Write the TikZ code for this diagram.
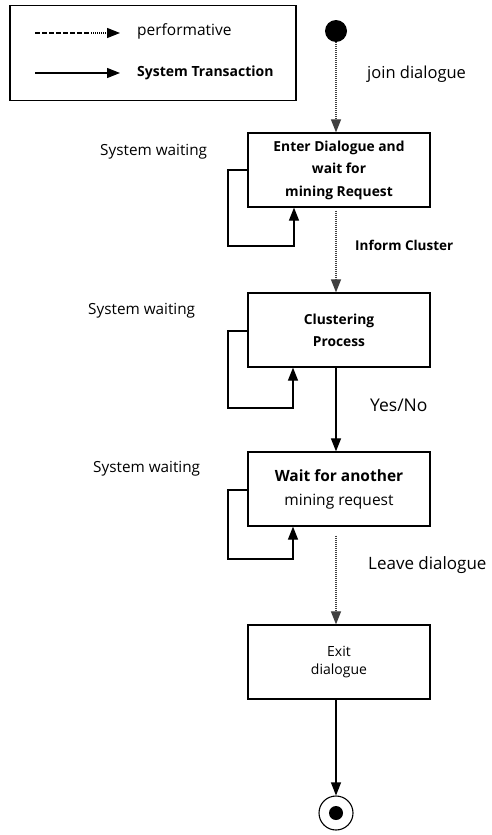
\documentclass[tikz,border=0pt]{standalone}
\usepackage{fontspec}
\setmainfont{Open Sans}
\usetikzlibrary{arrows.meta}
\newcommand{\fsz}[2]{\fontsize{#1}{#2}\selectfont}
\begin{document}
\begin{tikzpicture}[x=1pt,y=-1pt,
  state/.style={draw,line width=1.2pt,minimum width=182pt,minimum height=74pt,inner sep=0pt,align=center},
  lbl/.style={inner sep=0pt,anchor=west},
  tip/.style={-{Triangle[length=13pt,width=10pt]}},
  trans/.style={tip,line width=1.1pt},
  perf/.style={tip,line width=1.1pt,dash pattern=on 1pt off 1pt,draw=black!75},
  loopline/.style={tip,line width=1.1pt}]
\useasboundingbox (0,0) rectangle (491,835);

% legend
\node[draw,line width=1.2pt,minimum width=286pt,minimum height=95pt,inner sep=0pt] (legend) at (153,53) {};
\coordinate (ld0) at (35,33); \coordinate (ld1) at (120,33);
\coordinate (ls0) at (35,73); \coordinate (ls1) at (120,73);
\draw[line width=1.2pt,dash pattern=on 4.5pt off 2.5pt] (ld0) -- ++(56,0) coordinate (ldm);
\draw[tip,line width=1.1pt,dash pattern=on 1pt off 1pt] (ldm) -- (ld1);
\draw[trans] (ls0) -- (ls1);
\node[lbl,font=\fsz{15.5}{18}] (lperf) at (137,31) {performative};
\node[lbl,font=\bfseries\fsz{14}{16}] (ltrans) at (137,73) {System Transaction};

% initial and final states
\node[circle,fill=black,minimum size=22pt,inner sep=0pt] (start) at (336,31) {};
\node[circle,draw,line width=1.1pt,minimum size=34pt,inner sep=0pt] (stop) at (336,813) {};
\node[circle,fill=black,minimum size=14pt,inner sep=0pt] (stopdot) at (336,813) {};

% states
\node[state,font=\bfseries\fsz{13.8}{22.5}] (enter) at (339,170) {Enter Dialogue and\\wait for\\mining Request};
\node[state,font=\bfseries\fsz{13.8}{22}] (clus) at (339,330) {Clustering\\Process};
\node[state,font=\fsz{15.5}{24}] (wait) at (339,489) {\textbf{Wait for another}\\mining request};
\node[state,font=\fsz{14}{18}] (exit) at (339,662) {Exit\\dialogue};

% transitions
\draw[perf] (start) -- (enter.north -| start);
\draw[perf] ([xshift=-3pt]enter.south) ++(0,3) -- ([xshift=-3pt]clus.north);
\draw[trans] ([xshift=-3pt]clus.south) -- ([xshift=-3pt]wait.north);
\draw[perf] ([xshift=-3pt]wait.south) ++(0,9) -- ([xshift=-3pt]exit.north);
\draw[trans] ([xshift=-3pt]exit.south) -- (stop.north);

\node[lbl,font=\fsz{16.5}{18}] (l1) at (367,74) {join dialogue};
\node[lbl,font=\bfseries\fsz{13.5}{16}] (l2) at (355,245) {Inform Cluster};
\node[lbl,font=\fsz{17.5}{20}] (l3) at (370,405) {Yes/No};
\node[lbl,font=\fsz{17}{20}] (l4) at (368,565) {Leave dialogue};

% self loops
\draw[loopline] (enter.west |- 0,170) -| (228,246) -| ([xshift=-45pt]enter.south);
\draw[loopline] (clus.west |- 0,331) -| (228,408) -| ([xshift=-46pt]clus.south);
\draw[loopline] (wait.west |- 0,490) -| (228,559) -| ([xshift=-46pt]wait.south);

\node[lbl,font=\fsz{15.3}{18}] (w1) at (100,152) {System waiting};
\node[lbl,font=\fsz{15.3}{18}] (w2) at (88,311) {System waiting};
\node[lbl,font=\fsz{15.3}{18}] (w3) at (93,469) {System waiting};
\end{tikzpicture}
\end{document}
